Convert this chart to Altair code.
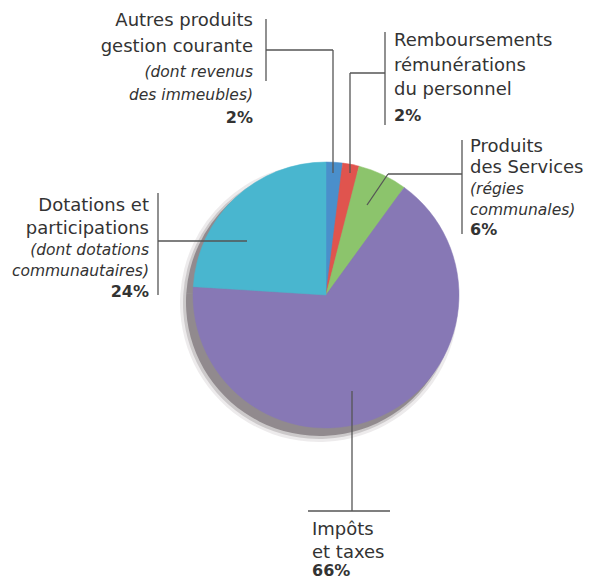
import altair as alt
import pandas as pd

# ---- data ----
categories = [
    "Autres produits gestion courante",
    "Remboursements rémunérations du personnel",
    "Produits des Services",
    "Impôts et taxes",
    "Dotations et participations",
]
values = [2, 2, 6, 66, 24]
colors = ["#4a8fcb", "#e0544e", "#8cc46c", "#8778b5", "#49b6cf"]

# label texts (lines) per slice
label_lines = [
    ["Autres produits", "gestion courante", "(dont revenus", "des immeubles)", "2%"],
    ["Remboursements", "rémunérations", "du personnel", "2%"],
    ["Produits", "des Services", "(régies", "communales)", "6%"],
    ["Impôts", "et taxes", "66%"],
    ["Dotations et", "participations", "(dont dotations", "communautaires)", "24%"],
]
label_styles = [
    ["n", "n", "i", "i", "b"],
    ["n", "n", "n", "b"],
    ["n", "n", "i", "i", "b"],
    ["n", "n", "b"],
    ["n", "n", "i", "i", "b"],
]

# ---- layout (pixels in plot area) ----
OFF = 8
CX, CY, R = 326 - OFF, 295 - OFF, 133
label_anchor = [  # x, align, baselines
    (253, "right", [26, 52, 77, 100, 123]),
    (394, "left", [46, 71, 95, 121]),
    (470, "left", [152, 173, 194, 215, 235]),
    (312, "left", [535, 558, 576]),
    (149, "right", [211, 234, 255, 276, 297]),
]
segments = [
    (266, 19, 266, 81), (266, 50, 333, 50), (333, 50, 333, 173),
    (385, 32, 385, 125), (350, 73, 385, 73), (350, 73, 350, 173),
    (462, 140, 462, 234), (388, 174, 462, 174), (388, 174, 367, 205),
    (158, 193, 158, 295), (158, 241, 247, 241),
    (352, 391, 352, 511), (308, 511, 390, 511),
]

pie_df = pd.DataFrame({"cat": categories, "value": values, "idx": list(range(len(values)))})

rows = []
for i, lines in enumerate(label_lines):
    x, align, ys = label_anchor[i]
    for t, s, y in zip(lines, label_styles[i], ys):
        rows.append({"text": t, "x": x - OFF, "y": y - OFF, "align": align, "style": s})
txt_df = pd.DataFrame(rows)

seg_df = pd.DataFrame(
    [{"x": a - OFF, "y": b - OFF, "x2": c - OFF, "y2": d - OFF} for a, b, c, d in segments]
)

W, H = 580, 571

# shadow
shadows = []
for r, op, dx, dy in [(139, 0.10, -7, 8), (136, 0.2, -7, 8), (134, 0.45, -6, 7)]:
    shadows.append(
        alt.Chart(pie_df).mark_arc(radius=r, opacity=op, color="#4a3f44")
        .encode(theta=alt.Theta("value:Q", stack=True), order=alt.Order("idx:Q"),
                x=alt.value(CX + dx), y=alt.value(CY + dy))
    )

pie = alt.Chart(pie_df).mark_arc(radius=R, strokeWidth=0.5).encode(
    theta=alt.Theta("value:Q", stack=True),
    order=alt.Order("idx:Q"),
    color=alt.Color("cat:N", scale=alt.Scale(domain=categories, range=colors), legend=None),
    stroke=alt.Color("cat:N", scale=alt.Scale(domain=categories, range=colors), legend=None),
    x=alt.value(CX),
    y=alt.value(CY),
)

rules = alt.Chart(seg_df).mark_rule(color="#555555", strokeWidth=1.3).encode(
    x=alt.X("x:Q", scale=None, axis=None),
    y=alt.Y("y:Q", scale=None, axis=None),
    x2="x2:Q",
    y2="y2:Q",
)

def text_layer(style, align, **kw):
    d = txt_df[(txt_df["style"] == style) & (txt_df["align"] == align)]
    return alt.Chart(d).mark_text(align=align, baseline="alphabetic", font="DejaVu Sans",
                                  color="#333333", **kw).encode(
        x=alt.X("x:Q", scale=None, axis=None),
        y=alt.Y("y:Q", scale=None, axis=None),
        text="text:N",
    )

texts = []
for al in ["left", "right"]:
    texts.append(text_layer("n", al, fontSize=18))
    texts.append(text_layer("i", al, fontSize=15.5, fontStyle="italic"))
    texts.append(text_layer("b", al, fontSize=16, fontWeight="bold"))

chart = alt.layer(*shadows, pie, rules, *texts).properties(
    width=W, height=H, autosize=alt.AutoSizeParams(type="none"), padding=0,
    background="white",
).configure_view(strokeWidth=0, stroke="transparent")

chart.save("out.html", embed_options={"renderer": "svg", "actions": False})
